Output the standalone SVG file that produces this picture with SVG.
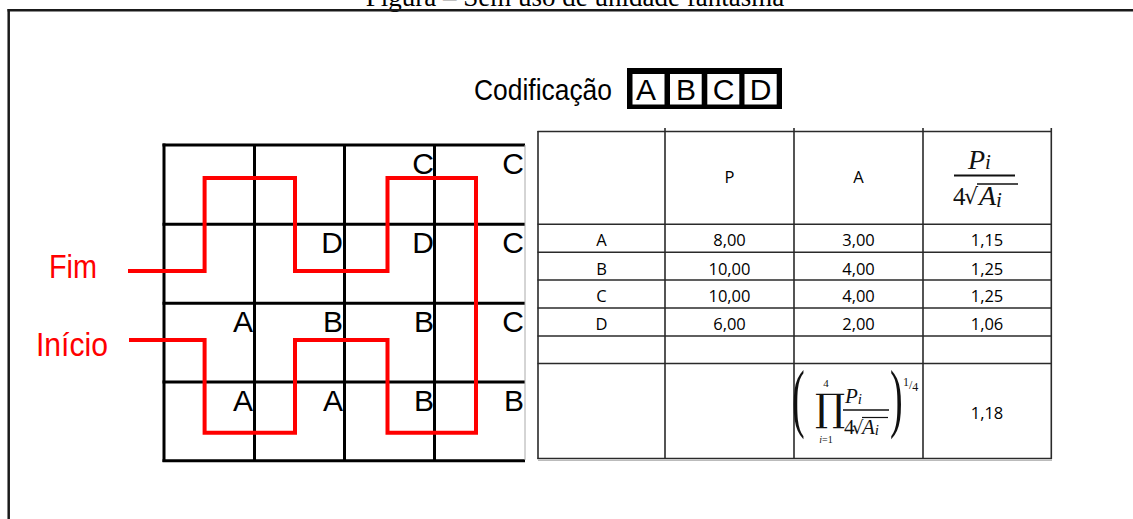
<svg xmlns="http://www.w3.org/2000/svg" width="1133" height="519" viewBox="0 0 1133 519">
<style>
.title{font-family:"Liberation Serif",serif;font-size:27px;fill:#000}
.sans{font-family:"Liberation Sans",Arial,sans-serif;fill:#000}
.red{fill:#ff0000;font-family:"Liberation Sans",Arial,sans-serif;font-size:33px}
.cell{font-family:"Liberation Sans",Arial,sans-serif;font-size:30px;fill:#000;text-anchor:end}
.grid line{stroke:#000;stroke-width:3}
.tbl line{stroke:#2a2a2a;stroke-width:1.6}
.td{font-family:"Open Sans","Noto Sans",sans-serif;font-size:16.5px;fill:#000;text-anchor:middle}
.math{font-family:"Liberation Serif","DejaVu Serif",serif;fill:#111}
.mi{font-style:italic}
</style>
<rect width="1133" height="519" fill="#fff"/>
<g id="title"><text class="title" x="575" y="6" text-anchor="middle">Figura – Sem uso de unidade fantasma</text></g>
<g id="frame" stroke="#1a1a1a" stroke-width="2.5" fill="none">
<line x1="8.7" y1="9" x2="8.7" y2="519"/>
<line x1="7.5" y1="10.2" x2="1133" y2="10.2"/>
</g>
<g id="codificacao">
<text class="sans" x="474" y="100" font-size="30" textLength="138" lengthAdjust="spacingAndGlyphs">Codificação</text>
<rect x="627" y="68" width="155" height="41" fill="#000"/>
<rect x="632.5" y="74" width="32" height="30.5" fill="#fff"/>
<rect x="670" y="74" width="31.7" height="30.5" fill="#fff"/>
<rect x="707.3" y="74" width="32" height="30.5" fill="#fff"/>
<rect x="744.5" y="74" width="32.2" height="30.5" fill="#fff"/>
<g class="sans" font-size="30" text-anchor="middle">
<text x="646" y="100">A</text><text x="686" y="100">B</text><text x="723.5" y="100">C</text><text x="760.5" y="100">D</text>
</g>
</g>
<g id="grid" class="grid">
<line x1="164" y1="143.5" x2="164" y2="462"/>
<line x1="254.5" y1="145" x2="254.5" y2="460.5"/>
<line x1="344.5" y1="145" x2="344.5" y2="460.5"/>
<line x1="434.5" y1="145" x2="434.5" y2="460.5"/>
<line x1="162.5" y1="145" x2="525" y2="145"/>
<line x1="162.5" y1="224.3" x2="525" y2="224.3"/>
<line x1="162.5" y1="303.3" x2="525" y2="303.3"/>
<line x1="162.5" y1="382" x2="525" y2="382"/>
<line x1="162.5" y1="460.7" x2="525" y2="460.7"/>
<line x1="525" y1="145" x2="525" y2="460" style="stroke:#aaa;stroke-width:1"/>
</g>
<g id="grid-letters">
<text class="cell" x="434" y="174">C</text><text class="cell" x="524" y="174">C</text>
<text class="cell" x="343" y="253">D</text><text class="cell" x="434" y="253">D</text><text class="cell" x="524" y="253">C</text>
<text class="cell" x="253" y="332">A</text><text class="cell" x="343" y="332">B</text><text class="cell" x="434" y="332">B</text><text class="cell" x="524" y="332">C</text>
<text class="cell" x="253" y="410.5">A</text><text class="cell" x="343" y="410.5">A</text><text class="cell" x="434" y="410.5">B</text><text class="cell" x="524" y="410.5">B</text>
</g>
<g id="connectors">
<polyline fill="none" stroke="#ff0000" stroke-width="4" points="128,271 204.6,271 204.6,178 295,178 295,271 387.5,271 387.5,178 476,178 476,432.7 387.5,432.7 387.5,340 295,340 295,432.7 204.6,432.7 204.6,340 129,340"/>
</g>
<g id="fim"><text class="red" x="49" y="278" textLength="48" lengthAdjust="spacingAndGlyphs">Fim</text></g>
<g id="inicio"><text class="red" x="36" y="356" textLength="72" lengthAdjust="spacingAndGlyphs">Início</text></g>
<g id="table">
<g class="tbl">
<line x1="537.5" y1="131.5" x2="1052" y2="131.5"/>
<line x1="537.5" y1="224.3" x2="1052" y2="224.3"/>
<line x1="537.5" y1="252.3" x2="1052" y2="252.3"/>
<line x1="537.5" y1="280" x2="1052" y2="280"/>
<line x1="537.5" y1="308" x2="1052" y2="308"/>
<line x1="537.5" y1="336" x2="1052" y2="336"/>
<line x1="537.5" y1="363.5" x2="1052" y2="363.5"/>
<line x1="537.5" y1="458.5" x2="1052" y2="458.5"/>
<line x1="538" y1="131" x2="538" y2="459"/>
<line x1="665" y1="128" x2="665" y2="459"/>
<line x1="794" y1="128" x2="794" y2="459"/>
<line x1="923" y1="128" x2="923" y2="459"/>
<line x1="1051.3" y1="128" x2="1051.3" y2="459"/>
<line x1="538" y1="460.5" x2="1052" y2="460.5" style="stroke:#bbb;stroke-width:1"/>
</g>
<text class="td" x="729.5" y="183">P</text>
<text class="td" x="858.5" y="183">A</text>
<g class="math">
<text class="mi" x="968" y="169" font-size="28">P<tspan font-size="21" dy="0">i</tspan></text>
<line x1="954" y1="175.5" x2="1015" y2="175.5" stroke="#111" stroke-width="2.2"/>
<text x="953" y="205" font-size="25">4</text>
<text x="964" y="204" font-size="22" font-family="DejaVu Serif,serif">√</text>
<line x1="977" y1="184" x2="1018" y2="184" stroke="#111" stroke-width="1.5"/>
<text class="mi" x="979" y="205" font-size="28">A<tspan font-size="21" dy="2">i</tspan></text>
</g>
<g class="td">
<text x="601.5" y="246">A</text><text x="729.5" y="246">8,00</text><text x="858.5" y="246">3,00</text><text x="987" y="246">1,15</text>
<text x="601.5" y="274.5">B</text><text x="729.5" y="274.5">10,00</text><text x="858.5" y="274.5">4,00</text><text x="987" y="274.5">1,25</text>
<text x="601.5" y="302">C</text><text x="729.5" y="302">10,00</text><text x="858.5" y="302">4,00</text><text x="987" y="302">1,25</text>
<text x="601.5" y="330">D</text><text x="729.5" y="330">6,00</text><text x="858.5" y="330">2,00</text><text x="987" y="330">1,06</text>
<text x="987" y="419">1,18</text>
</g>
<g class="math">
<text transform="translate(792,423) scale(0.5,1)" font-size="76">(</text>
<text x="815" y="421" font-size="38" font-family="DejaVu Serif,serif">∏</text>
<text x="826" y="387" font-size="11" text-anchor="middle">4</text>
<text x="826" y="443" font-size="10" text-anchor="middle"><tspan class="mi">i</tspan>=1</text>
<text class="mi" x="845" y="403" font-size="21">P<tspan font-size="15" dy="1">i</tspan></text>
<line x1="843" y1="410" x2="889" y2="410" stroke="#111" stroke-width="1.5"/>
<text x="844" y="434" font-size="21">4</text>
<text x="852" y="434" font-size="18" font-family="DejaVu Serif,serif">√</text>
<line x1="862" y1="417.5" x2="888" y2="417.5" stroke="#111" stroke-width="1.2"/>
<text class="mi" x="862" y="434" font-size="21">A<tspan font-size="15" dy="1">i</tspan></text>
<text transform="translate(890,423) scale(0.5,1)" font-size="76">)</text>
<text x="903" y="389" font-size="12"><tspan dy="-3">1</tspan><tspan dy="3">/</tspan><tspan dy="2">4</tspan></text>
</g>
</g>
</svg>
